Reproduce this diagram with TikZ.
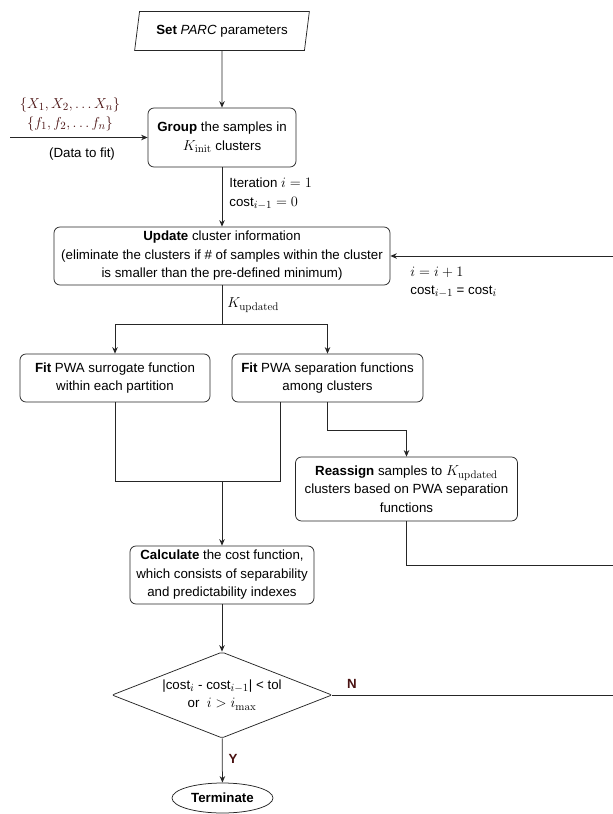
\documentclass[tikz,border=0pt]{standalone}
\usepackage[no-math]{fontspec}
\setmainfont{Liberation Sans}
\DeclareMathSizes{13.3}{15}{10.5}{8}
\usetikzlibrary{shapes.geometric,arrows.meta}
\definecolor{lbl}{HTML}{4A1212}
\begin{document}
\begin{tikzpicture}[x=1pt,y=-1pt,
  font=\fontsize{13.3}{18.5}\selectfont,
  line width=0.75pt, draw=black!85,
  >={Stealth[length=6.5pt,width=5.5pt]},
  proc/.style={draw, rounded corners=6pt, align=center, inner sep=0pt, fill=white},
  tag/.style={text=lbl, inner sep=1pt}]
\useasboundingbox (0,0) rectangle (613,814);
% boxes
\node[trapezium, trapezium left angle=72, trapezium right angle=108, trapezium stretches=true, draw, minimum width=175pt, minimum height=39pt, inner sep=0pt] (tset) at (222,31) {\textbf{Set} \textit{PARC} parameters};
\node[proc, minimum width=148pt, minimum height=59pt] (tgrp) at (222,137.5) {\textbf{Group} the samples in\\$K_{\mathrm{init}}$ clusters};
\node[proc, minimum width=336pt, minimum height=58pt] (tupd) at (222,256) {\textbf{Update} cluster information\\(eliminate the clusters if \# of samples within the cluster\\is smaller than the pre-defined minimum)};
\node[proc, minimum width=190pt, minimum height=48pt] (tfitl) at (115,378) {\textbf{Fit} PWA surrogate function\\within each partition};
\node[proc, minimum width=191pt, minimum height=48pt] (tfitr) at (327.5,378) {\textbf{Fit} PWA separation functions\\among clusters};
\node[proc, minimum width=222pt, minimum height=64pt] (treas) at (406.5,489) {\textbf{Reassign} samples to $K_{\mathrm{updated}}$\\clusters based on PWA separation\\functions};
\node[proc, minimum width=184pt, minimum height=58pt] (tcalc) at (222,575) {\textbf{Calculate} the cost function,\\which consists of separability\\and predictability indexes};
\node[diamond, aspect=2.56, draw, rounded corners=2pt, align=center, inner sep=0pt, minimum width=220pt, minimum height=86pt] (tdec) at (222,695) {|cost$_i$ - cost$_{i-1}$| < tol\\or~ $i > i_{\max}$};
\node[ellipse, draw, inner sep=0pt, minimum width=101pt, minimum height=30pt] (tterm) at (222.5,798) {\textbf{Terminate}};
% points
\coordinate (tin) at (10,137.5);
\coordinate (tsplit) at (222,324);
\coordinate (tjoin) at (222,481);
\coordinate (tjr) at (280,481);
\coordinate (tbend) at (406.5,430);
\coordinate (tredge) at (613,565);
\coordinate (tnedge) at (613,695);
\coordinate (tfbedge) at (613,256);
% labels
\node[tag] (tx) at (70,105) {$\{X_1, X_2, \dots X_n\}$};
\node[tag] (tf) at (70,124) {$\{f_1, f_2, \dots f_n\}$};
\node (tdata) at (82,154) {(Data to fit)};
\node[anchor=west, inner sep=0pt] (tit1) at (229,183) {Iteration $i=1$};
\node[anchor=west, inner sep=0pt] (tit2) at (229,203) {cost$_{i-1}=0$};
\node[anchor=west, inner sep=0pt] (tkup) at (227,305) {$K_{\mathrm{updated}}$};
\node[anchor=west, inner sep=0pt] (tinc1) at (410,272) {$i=i+1$};
\node[anchor=west, inner sep=0pt] (tinc2) at (410,292) {cost$_{i-1}$ = cost$_i$};
\node[tag, font=\fontsize{13.3}{14}\selectfont\bfseries] (tn) at (352,684) {N};
\node[tag, font=\fontsize{13.3}{14}\selectfont\bfseries] (ty) at (233,759) {Y};
% connectors
\draw[->] (tset) -- (tgrp);
\draw[->] (tin) -- (tgrp);
\draw[->] (tgrp) -- (tupd);
\draw (tupd) -- (tsplit);
\draw[->] (tsplit) -| (tfitl);
\draw[->] (tsplit) -| (tfitr);
\draw (tfitl.south) |- (tjr) -- (tjr |- tfitr.south);
\draw[->] (tjoin) -- (tcalc);
\draw (tfitr.south) |- (tbend);
\draw[->] (tbend) -- (treas);
\draw (treas.south) |- (tredge);
\draw[->] (tcalc) -- (tdec);
\draw (tdec.east) -- (tnedge);
\draw[->] (tfbedge) -- (tupd.east);
\draw[->] (tdec) -- (tterm);
\end{tikzpicture}
\end{document}
